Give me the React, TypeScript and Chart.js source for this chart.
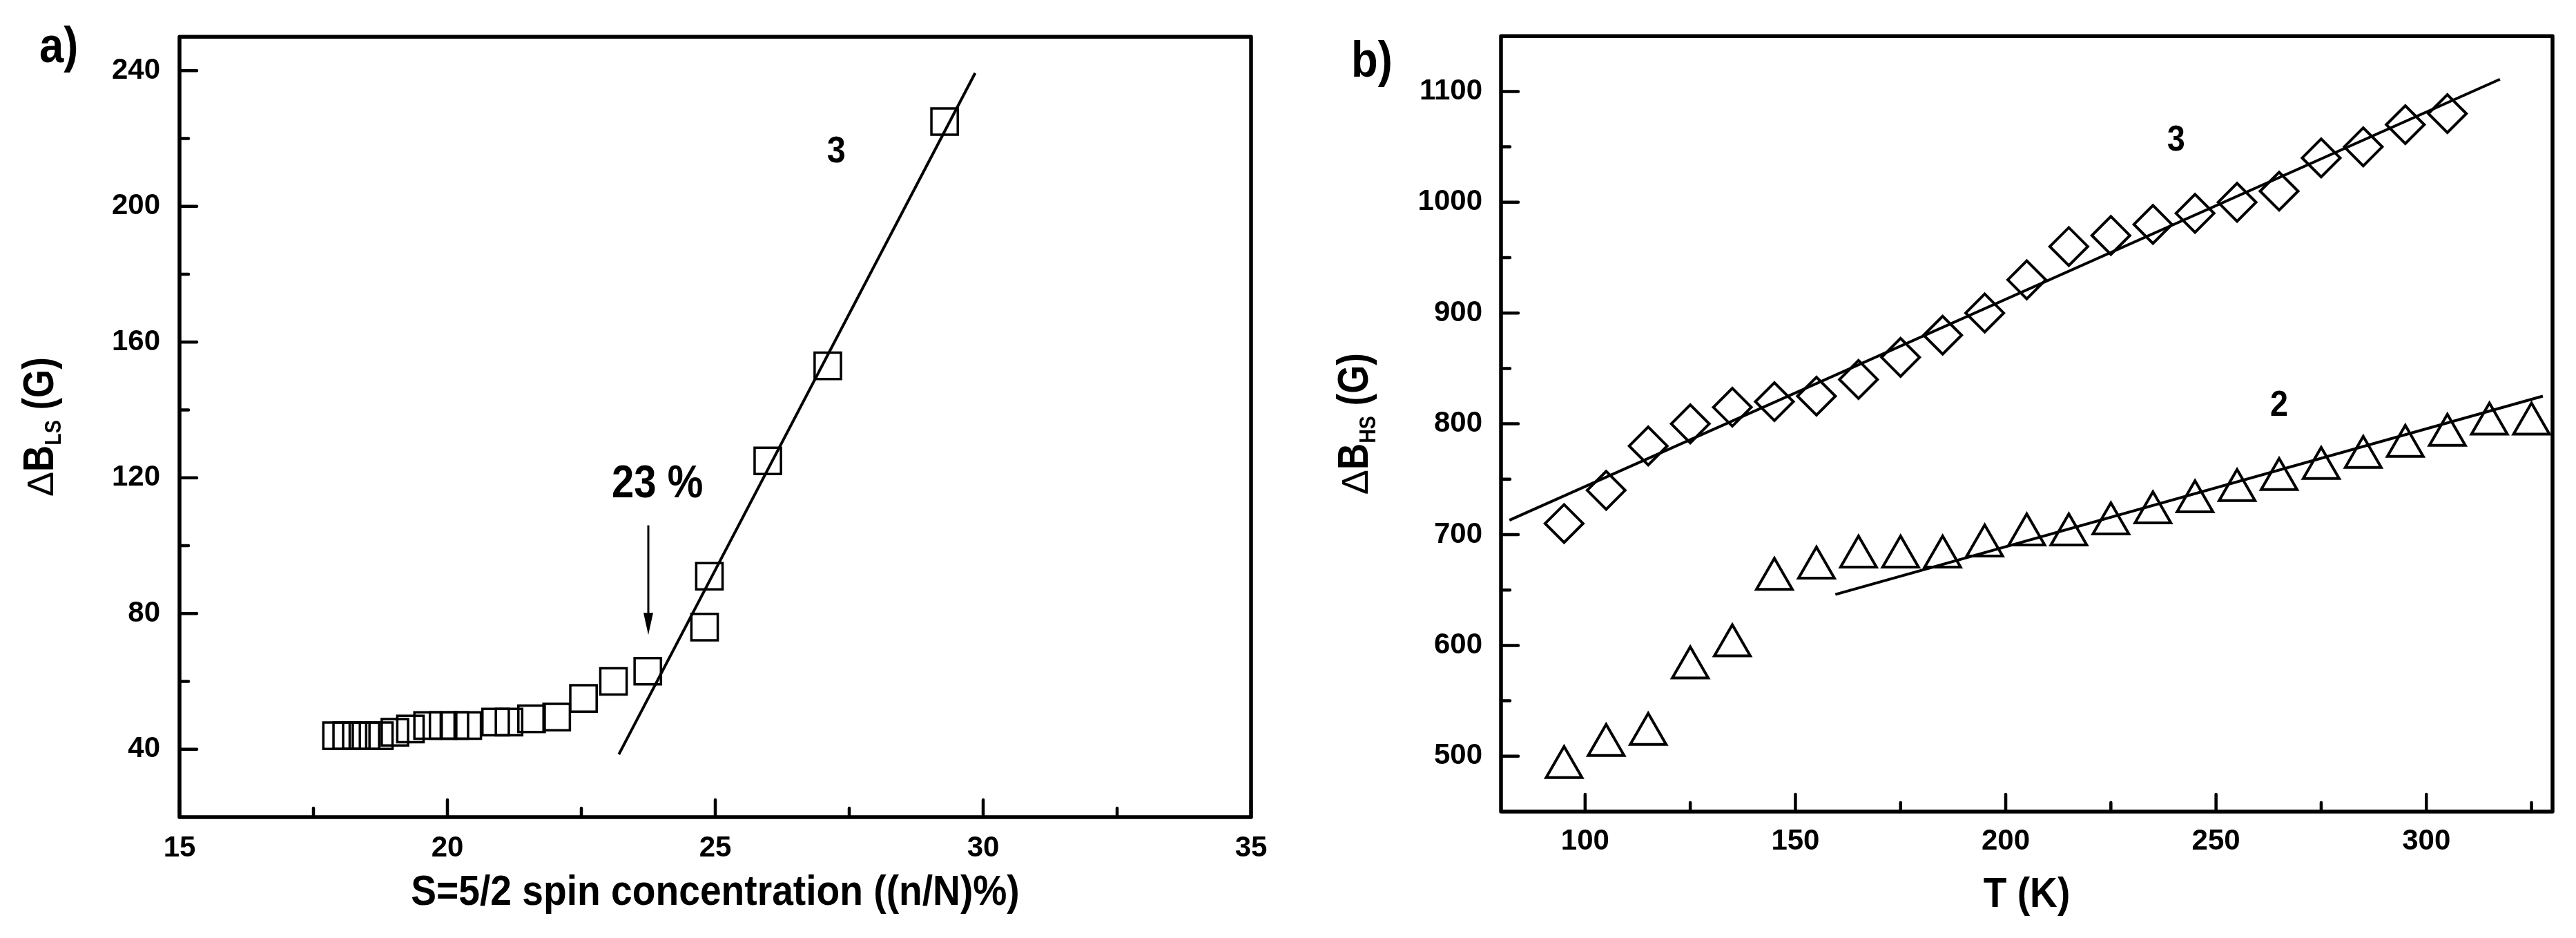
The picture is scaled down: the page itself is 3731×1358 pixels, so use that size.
import React, { useEffect, useRef } from 'react';
import { Chart, registerables } from 'chart.js';

Chart.register(...registerables);

const FONT = "'Liberation Sans', Arial, Helvetica, sans-serif";

// ---------- Panel a data ----------
const concA = [17.93, 18.12, 18.3, 18.48, 18.73, 19.02, 19.31, 19.63, 19.92, 20.14, 20.38, 20.9, 21.15, 21.57, 22.04, 22.54, 23.1, 23.74, 24.8, 24.89, 25.98, 27.1, 29.28];
const widthA = [44, 44, 44, 44, 44, 45, 46, 47, 47, 47, 47, 48, 48, 49, 49.5, 55, 60, 63, 76, 91, 125, 153, 225];
const fitConcA = [23.2, 29.85];
const fitWidthA = [38.5, 239.3];
const xMajorA = [15, 20, 25, 30, 35];
const xMinorA = [17.5, 22.5, 27.5, 32.5];
const yMajorA = [40, 80, 120, 160, 200, 240];
const yMinorA = [60, 100, 140, 180, 220];
const labelA3 = { x: 27.26, y: 217, text: '3' };
const labelA23 = { x: 23.92, y: 119, text: '23 %' };
const arrowA = { x: 23.75, from: 106, to: 73.7 };

// ---------- Panel b data ----------
const tempB3 = [95, 105, 115, 125, 135, 145, 155, 165, 175, 185, 195, 205, 215, 225, 235, 245, 255, 265, 275, 285, 295, 305];
const dB3 = [710, 740, 780, 800, 815, 820, 825, 840, 860, 880, 900, 930, 960, 970, 980, 990, 1000, 1010, 1040, 1050, 1070, 1080];
const tempB2 = [95, 105, 115, 125, 135, 145, 155, 165, 175, 185, 195, 205, 215, 225, 235, 245, 255, 265, 275, 285, 295, 305, 315, 325];
const dB2 = [490, 510, 520, 580, 600, 660, 670, 680, 680, 680, 690, 700, 700, 710, 720, 730, 740, 750, 760, 770, 780, 790, 800, 800];
const fitTempB3 = [82, 317.5];
const fitDB3 = [713, 1111];
const fitTempB2 = [159.5, 327.7];
const fitDB2 = [646, 825];
const xMajorB = [100, 150, 200, 250, 300];
const xMinorB = [125, 175, 225, 275, 325];
const yMajorB = [500, 600, 700, 800, 900, 1000, 1100];
const yMinorB = [550, 650, 750, 850, 950, 1050];
const labelB3 = { x: 240.5, y: 1058, text: '3' };
const labelB2 = { x: 265, y: 819, text: '2' };

const H = 1358;

function pts(xs: number[], ys: number[]) {
  return xs.map((x, i) => ({ x, y: ys[i] }));
}

function drawScaled(ctx: CanvasRenderingContext2D, text: string, x: number, y: number, size: number, sx: number, align: CanvasTextAlign, weight = 'bold') {
  ctx.save();
  ctx.font = `${weight} ${size}px ${FONT}`;
  ctx.textAlign = align;
  ctx.textBaseline = 'alphabetic';
  ctx.translate(x, y);
  ctx.scale(sx, 1);
  ctx.fillText(text, 0, 0);
  ctx.restore();
}

type Part = { t: string; size: number; weight: string; sx: number; dy: number };

function drawRotatedRich(ctx: CanvasRenderingContext2D, parts: Part[], bx: number, cy: number) {
  ctx.save();
  ctx.textBaseline = 'alphabetic';
  ctx.textAlign = 'left';
  let total = 0;
  const widths = parts.map((p) => {
    ctx.font = `${p.weight} ${p.size}px ${FONT}`;
    const w = ctx.measureText(p.t).width * p.sx;
    total += w;
    return w;
  });
  ctx.translate(bx, cy);
  ctx.rotate(-Math.PI / 2);
  let cx = -total / 2;
  parts.forEach((p, i) => {
    ctx.save();
    ctx.font = `${p.weight} ${p.size}px ${FONT}`;
    ctx.translate(cx, p.dy);
    ctx.scale(p.sx, 1);
    ctx.fillText(p.t, 0, 0);
    ctx.restore();
    cx += widths[i];
  });
  ctx.restore();
}

function drawFrameAndTicks(chart: any, xMaj: number[], xMin: number[], yMaj: number[], yMin: number[]) {
  const { ctx, chartArea: a } = chart;
  const xs = chart.scales.x;
  const ys = chart.scales.y;
  ctx.save();
  ctx.strokeStyle = '#000';
  ctx.lineCap = 'round';
  ctx.lineWidth = 4.5;
  const majL = 25;
  const minL = 13;
  ctx.beginPath();
  xMaj.forEach((v) => {
    const p = xs.getPixelForValue(v);
    ctx.moveTo(p, a.bottom);
    ctx.lineTo(p, a.bottom - majL);
  });
  xMin.forEach((v) => {
    const p = xs.getPixelForValue(v);
    ctx.moveTo(p, a.bottom);
    ctx.lineTo(p, a.bottom - minL);
  });
  yMaj.forEach((v) => {
    const p = ys.getPixelForValue(v);
    ctx.moveTo(a.left, p);
    ctx.lineTo(a.left + majL, p);
  });
  yMin.forEach((v) => {
    const p = ys.getPixelForValue(v);
    ctx.moveTo(a.left, p);
    ctx.lineTo(a.left + minL, p);
  });
  ctx.stroke();
  ctx.lineWidth = 5.5;
  ctx.lineJoin = 'round';
  ctx.strokeRect(a.left, a.top, a.right - a.left, a.bottom - a.top);
  ctx.restore();
}

function centeredDigits(ctx: CanvasRenderingContext2D, text: string, x: number, y: number, size: number, sx: number) {
  drawScaled(ctx, text, x, y + 0.358 * size, size, sx, 'center');
}

const decorA = {
  id: 'decorA',
  afterDraw(chart: any) {
    const { ctx, chartArea: a } = chart;
    const xs = chart.scales.x;
    const ys = chart.scales.y;
    drawFrameAndTicks(chart, xMajorA, xMinorA, yMajorA, yMinorA);
    ctx.save();
    ctx.fillStyle = '#000';
    drawScaled(ctx, 'a)', 57, 90, 72, 0.88, 'left');
    drawScaled(ctx, 'S=5/2 spin concentration ((n/N)%)', (a.left + a.right) / 2, 1310, 62, 0.89, 'center');
    drawRotatedRich(
      ctx,
      [
        { t: 'Δ', size: 54, weight: 'normal', sx: 1, dy: 0 },
        { t: 'B', size: 63, weight: 'bold', sx: 0.84, dy: 0 },
        { t: 'LS', size: 34, weight: 'bold', sx: 0.84, dy: 11 },
        { t: ' (G)', size: 63, weight: 'bold', sx: 0.84, dy: 0 },
      ],
      a.left - 183,
      (a.top + a.bottom) / 2
    );
    centeredDigits(ctx, labelA3.text, xs.getPixelForValue(labelA3.x), ys.getPixelForValue(labelA3.y), 54, 0.9);
    centeredDigits(ctx, labelA23.text, xs.getPixelForValue(labelA23.x), ys.getPixelForValue(labelA23.y), 66, 0.88);
    const ax = xs.getPixelForValue(arrowA.x);
    const ay1 = ys.getPixelForValue(arrowA.from);
    const ay2 = ys.getPixelForValue(arrowA.to);
    ctx.strokeStyle = '#000';
    ctx.lineWidth = 3;
    ctx.beginPath();
    ctx.moveTo(ax, ay1);
    ctx.lineTo(ax, ay2 - 20);
    ctx.stroke();
    ctx.beginPath();
    ctx.moveTo(ax, ay2);
    ctx.lineTo(ax - 7, ay2 - 32);
    ctx.lineTo(ax + 7, ay2 - 32);
    ctx.closePath();
    ctx.fill();
    ctx.restore();
  },
};

const decorB = {
  id: 'decorB',
  afterDraw(chart: any) {
    const { ctx, chartArea: a } = chart;
    const xs = chart.scales.x;
    const ys = chart.scales.y;
    drawFrameAndTicks(chart, xMajorB, xMinorB, yMajorB, yMinorB);
    ctx.save();
    ctx.fillStyle = '#000';
    drawScaled(ctx, 'b)', 1957 - 1880, 111, 72, 0.88, 'left');
    drawScaled(ctx, 'T (K)', (a.left + a.right) / 2, 1313, 62, 0.89, 'center');
    drawRotatedRich(
      ctx,
      [
        { t: 'Δ', size: 54, weight: 'normal', sx: 1, dy: 0 },
        { t: 'B', size: 63, weight: 'bold', sx: 0.84, dy: 0 },
        { t: 'HS', size: 34, weight: 'bold', sx: 0.84, dy: 11 },
        { t: ' (G)', size: 63, weight: 'bold', sx: 0.84, dy: 0 },
      ],
      a.left - 193,
      (a.top + a.bottom) / 2
    );
    centeredDigits(ctx, labelB3.text, xs.getPixelForValue(labelB3.x), ys.getPixelForValue(labelB3.y), 52, 0.9);
    centeredDigits(ctx, labelB2.text, xs.getPixelForValue(labelB2.x), ys.getPixelForValue(labelB2.y), 52, 0.9);
    ctx.restore();
  },
};

function tickFont() {
  return { family: FONT, size: 42, weight: 'bold' as const };
}

function axis(min: number, max: number, major: number[], fit: (s: any) => void, padding: number) {
  return {
    type: 'linear' as const,
    min,
    max,
    afterBuildTicks: (s: any) => {
      s.ticks = major.map((v) => ({ value: v }));
    },
    afterFit: fit,
    grid: { display: false, drawTicks: false },
    border: { display: false },
    ticks: {
      font: tickFont(),
      color: '#000',
      padding,
      autoSkip: false,
      maxRotation: 0,
      minRotation: 0,
      callback: (v: any) => String(v),
    },
  };
}

function markerSet(data: { x: number; y: number }[], style: string, radius: number, bw: number) {
  return {
    data,
    showLine: false,
    pointStyle: style,
    pointRadius: radius,
    pointHoverRadius: radius,
    pointBorderWidth: bw,
    pointBorderColor: '#000',
    pointBackgroundColor: 'rgba(0,0,0,0)',
    borderColor: '#000',
    backgroundColor: 'rgba(0,0,0,0)',
    clip: false as const,
  };
}

function lineSet(data: { x: number; y: number }[]) {
  return {
    data,
    showLine: true,
    pointRadius: 0,
    borderColor: '#000',
    borderWidth: 4,
    fill: false,
    clip: false as const,
  };
}

function configA(): any {
  return {
    type: 'scatter',
    data: {
      datasets: [
        lineSet(pts(fitConcA, fitWidthA)),
        markerSet(pts(concA, widthA), 'rect', 27, 3.5),
      ],
    },
    options: {
      animation: false,
      responsive: false,
      devicePixelRatio: 1,
      layout: { padding: { left: 0, top: 32, right: 68, bottom: 0 } },
      plugins: { legend: { display: false }, tooltip: { enabled: false } },
      scales: {
        x: axis(15, 35, xMajorA, (s: any) => { s.height = 175; }, 20),
        y: axis(20, 250, yMajorA, (s: any) => { s.width = 260; }, 28),
      },
    },
    plugins: [decorA],
  };
}

function configB(): any {
  return {
    type: 'scatter',
    data: {
      datasets: [
        lineSet(pts(fitTempB3, fitDB3)),
        lineSet(pts(fitTempB2, fitDB2)),
        markerSet(pts(tempB3, dB3), 'rectRot', 27.5, 4),
        markerSet(pts(tempB2, dB2), 'triangle', 30, 4),
      ],
    },
    options: {
      animation: false,
      responsive: false,
      devicePixelRatio: 1,
      layout: { padding: { left: 0, top: 44, right: 32, bottom: 0 } },
      plugins: { legend: { display: false }, tooltip: { enabled: false } },
      scales: {
        x: axis(80, 330, xMajorB, (s: any) => { s.height = 183; }, 18),
        y: axis(450, 1150, yMajorB, (s: any) => { s.width = 294; }, 27),
      },
    },
    plugins: [decorB],
  };
}

function Panel({ left, width, make }: { left: number; width: number; make: () => any }) {
  const ref = useRef<HTMLCanvasElement>(null);
  useEffect(() => {
    if (!ref.current) return;
    const chart = new Chart(ref.current, make());
    return () => chart.destroy();
  }, []);
  return (
    <div style={{ position: 'absolute', left, top: 0, width, height: H, background: '#fff' }}>
      <canvas ref={ref} width={width} height={H} style={{ width, height: H, display: 'block' }} />
    </div>
  );
}

export default function App() {
  return (
    <div style={{ position: 'absolute', left: 0, top: 0, width: 3731, height: H, background: '#fff' }}>
      <Panel left={0} width={1880} make={configA} />
      <Panel left={1880} width={1851} make={configB} />
    </div>
  );
}
